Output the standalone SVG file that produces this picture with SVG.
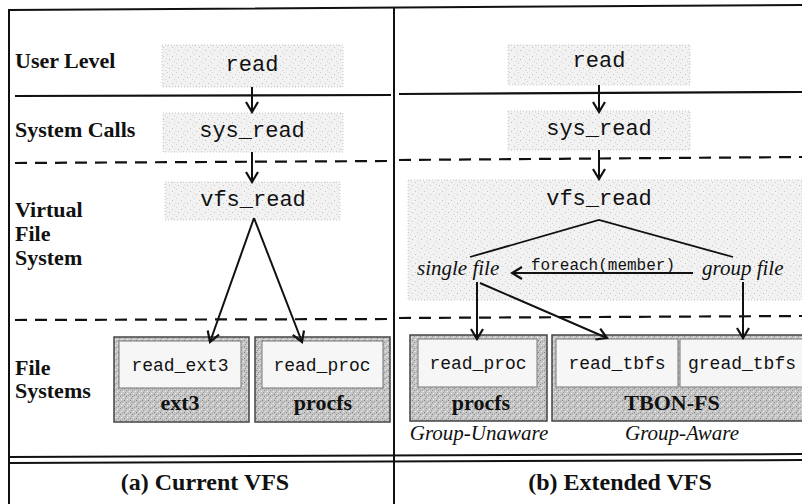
<svg xmlns="http://www.w3.org/2000/svg" width="802" height="504" viewBox="0 0 802 504">
  <defs>
    <pattern id="lightStipple" width="9" height="9" patternUnits="userSpaceOnUse">
      <rect width="9" height="9" fill="#f2f2f2"/>
      <rect x="1" y="2" width="1" height="1" fill="#c4c4c4"/>
      <rect x="5" y="0" width="1" height="1" fill="#d2d2d2"/>
      <rect x="7" y="5" width="1" height="1" fill="#bdbdbd"/>
      <rect x="3" y="7" width="1" height="1" fill="#d0d0d0"/>
      <rect x="4" y="4" width="1" height="1" fill="#dedede"/>
    </pattern>
    <pattern id="darkStipple" width="6" height="6" patternUnits="userSpaceOnUse">
      <rect width="6" height="6" fill="#c6c6c6"/>
      <rect x="0" y="0" width="1" height="1" fill="#8a8a8a"/>
      <rect x="3" y="1" width="1" height="1" fill="#f0f0f0"/>
      <rect x="1" y="3" width="1" height="1" fill="#eeeeee"/>
      <rect x="4" y="4" width="1" height="1" fill="#7e7e7e"/>
      <rect x="2" y="5" width="1" height="1" fill="#a0a0a0"/>
      <rect x="5" y="2" width="1" height="1" fill="#9a9a9a"/>
    </pattern>
    <marker id="arrow" viewBox="-12 -8 14 16" refX="0" refY="0" markerWidth="14" markerHeight="16" markerUnits="userSpaceOnUse" orient="auto">
      <path d="M-10,-6 L0,0 L-10,6" fill="none" stroke="#111" stroke-width="2.2"/>
    </marker>
    <style>
      .frame { stroke: #111; stroke-width: 2; fill: none; }
      .solid { stroke: #111; stroke-width: 2.2; fill: none; }
      .dash { stroke: #111; stroke-width: 2.2; stroke-dasharray: 12 8; fill: none; }
      .light { fill: url(#lightStipple); stroke: #c8c8c8; stroke-width: 1; stroke-dasharray: 1 2; }
      .fs { fill: url(#darkStipple); stroke: #444; stroke-width: 1.5; }
      .inner { fill: #f6f6f6; stroke: #777; stroke-width: 1; }
      .edge { stroke: #111; stroke-width: 2; fill: none; marker-end: url(#arrow); }
      .plain { stroke: #111; stroke-width: 1.8; fill: none; }
      .label { font-family: "Liberation Serif", "Times New Roman", serif; font-weight: bold; font-size: 22px; fill: #111; }
      .caption { font-family: "Liberation Serif", "Times New Roman", serif; font-weight: bold; font-size: 24px; fill: #111; text-anchor: middle; }
      .fsname { font-family: "Liberation Serif", "Times New Roman", serif; font-weight: bold; font-size: 22px; fill: #111; text-anchor: middle; }
      .ital { font-family: "Liberation Serif", "Times New Roman", serif; font-style: italic; font-size: 21px; fill: #111; }
      .code { font-family: "Liberation Mono", "Courier New", monospace; font-size: 22px; fill: #111; text-anchor: middle; }
      .code-s { font-family: "Liberation Mono", "Courier New", monospace; font-size: 18px; fill: #111; text-anchor: middle; }
      .code-xs { font-family: "Liberation Mono", "Courier New", monospace; font-size: 16px; fill: #111; text-anchor: middle; }
    </style>
  </defs>

  <rect width="802" height="504" fill="#ffffff"/>

  <!-- frame and panel separators -->
  <g id="frame">
    <path class="frame" d="M9,504 L9,10 L802,5"/>
    <path class="frame" d="M394,8 L394,504"/>
    <path class="frame" d="M9,457 L802,454"/>
    <path class="frame" d="M9,463 L802,460"/>
  </g>

  <!-- layer boundaries -->
  <g id="layers">
    <path class="solid" d="M15,96 L391,95"/>
    <path class="solid" d="M399,94 L802,92"/>
    <path class="dash" d="M15,163 L391,161"/>
    <path class="dash" d="M399,160 L802,157"/>
    <path class="dash" d="M15,320 L391,319"/>
    <path class="dash" d="M399,318 L802,316"/>
  </g>

  <!-- layer labels -->
  <g id="layer-labels">
    <text class="label" x="15" y="68">User Level</text>
    <text class="label" x="15" y="137">System Calls</text>
    <text class="label" x="15" y="217">Virtual</text>
    <text class="label" x="15" y="241">File</text>
    <text class="label" x="15" y="265">System</text>
    <text class="label" x="15" y="375">File</text>
    <text class="label" x="15" y="398">Systems</text>
  </g>

  <!-- (a) current VFS -->
  <g id="a-read">
    <rect class="light" x="162" y="45" width="181" height="42"/>
    <text class="code" x="252" y="71">read</text>
  </g>
  <g id="a-sys-read">
    <rect class="light" x="163" y="113" width="180" height="39"/>
    <text class="code" x="252" y="137">sys_read</text>
  </g>
  <g id="a-vfs-read">
    <rect class="light" x="165" y="182" width="175" height="38"/>
    <text class="code" x="253" y="206">vfs_read</text>
  </g>
  <g id="a-ext3">
    <rect class="fs" x="114" y="337" width="135" height="85"/>
    <rect class="inner" x="119" y="341" width="122" height="47"/>
    <text class="code-s" x="180" y="371">read_ext3</text>
    <text class="fsname" x="180" y="410">ext3</text>
  </g>
  <g id="a-procfs">
    <rect class="fs" x="255" y="337" width="135" height="85"/>
    <rect class="inner" x="262" y="341" width="121" height="47"/>
    <text class="code-s" x="322" y="371">read_proc</text>
    <text class="fsname" x="323" y="410">procfs</text>
  </g>

  <!-- (b) extended VFS -->
  <g id="b-vfs-area">
    <rect class="light" x="408" y="180" width="394" height="120"/>
  </g>
  <g id="b-read">
    <rect class="light" x="508" y="45" width="182" height="40"/>
    <text class="code" x="599" y="67">read</text>
  </g>
  <g id="b-sys-read">
    <rect class="light" x="508" y="111" width="182" height="39"/>
    <text class="code" x="599" y="135">sys_read</text>
  </g>
  <g id="b-vfs-read">
    <text class="code" x="599" y="205">vfs_read</text>
  </g>
  <g id="b-single-file">
    <text class="ital" x="417" y="275">single file</text>
  </g>
  <g id="b-group-file">
    <text class="ital" x="702" y="275">group file</text>
  </g>
  <g id="b-procfs">
    <rect class="fs" x="410" y="335" width="137" height="86"/>
    <rect class="inner" x="418" y="339" width="119" height="48"/>
    <text class="code-s" x="478" y="369">read_proc</text>
    <text class="fsname" x="481" y="410">procfs</text>
    <text class="ital" x="479" y="440" text-anchor="middle">Group-Unaware</text>
  </g>
  <g id="b-tbon-fs">
    <rect class="fs" x="552" y="335" width="252" height="86"/>
    <rect class="inner" x="556" y="339" width="122" height="48"/>
    <rect class="inner" x="680" y="339" width="124" height="48"/>
    <text class="code-s" x="617" y="369">read_tbfs</text>
    <text class="code-s" x="742" y="369">gread_tbfs</text>
    <text class="fsname" x="672" y="410">TBON-FS</text>
    <text class="ital" x="682" y="440" text-anchor="middle">Group-Aware</text>
  </g>

  <!-- captions -->
  <g id="captions">
    <text class="caption" x="205" y="490">(a) Current VFS</text>
    <text class="caption" x="620" y="490">(b) Extended VFS</text>
  </g>

  <!-- connectors -->
  <g id="connectors">
    <path class="edge" d="M252,87 L252,112"/>
    <path class="edge" d="M252,152 L252,182"/>
    <path class="edge" d="M254,218 L210,342"/>
    <path class="edge" d="M254,218 L302,342"/>

    <path class="edge" d="M599,85 L599,112"/>
    <path class="edge" d="M599,150 L599,179"/>
    <path class="plain" d="M470,257 L599,220 L733,257"/>
    <path class="edge" d="M693,273 L512,273"/>
    <text class="code-xs" x="603" y="270">foreach(member)</text>
    <path class="edge" d="M477,282 L477,339"/>
    <path class="edge" d="M480,283 L607,338"/>
    <path class="edge" d="M743,282 L743,338"/>
  </g>
</svg>
